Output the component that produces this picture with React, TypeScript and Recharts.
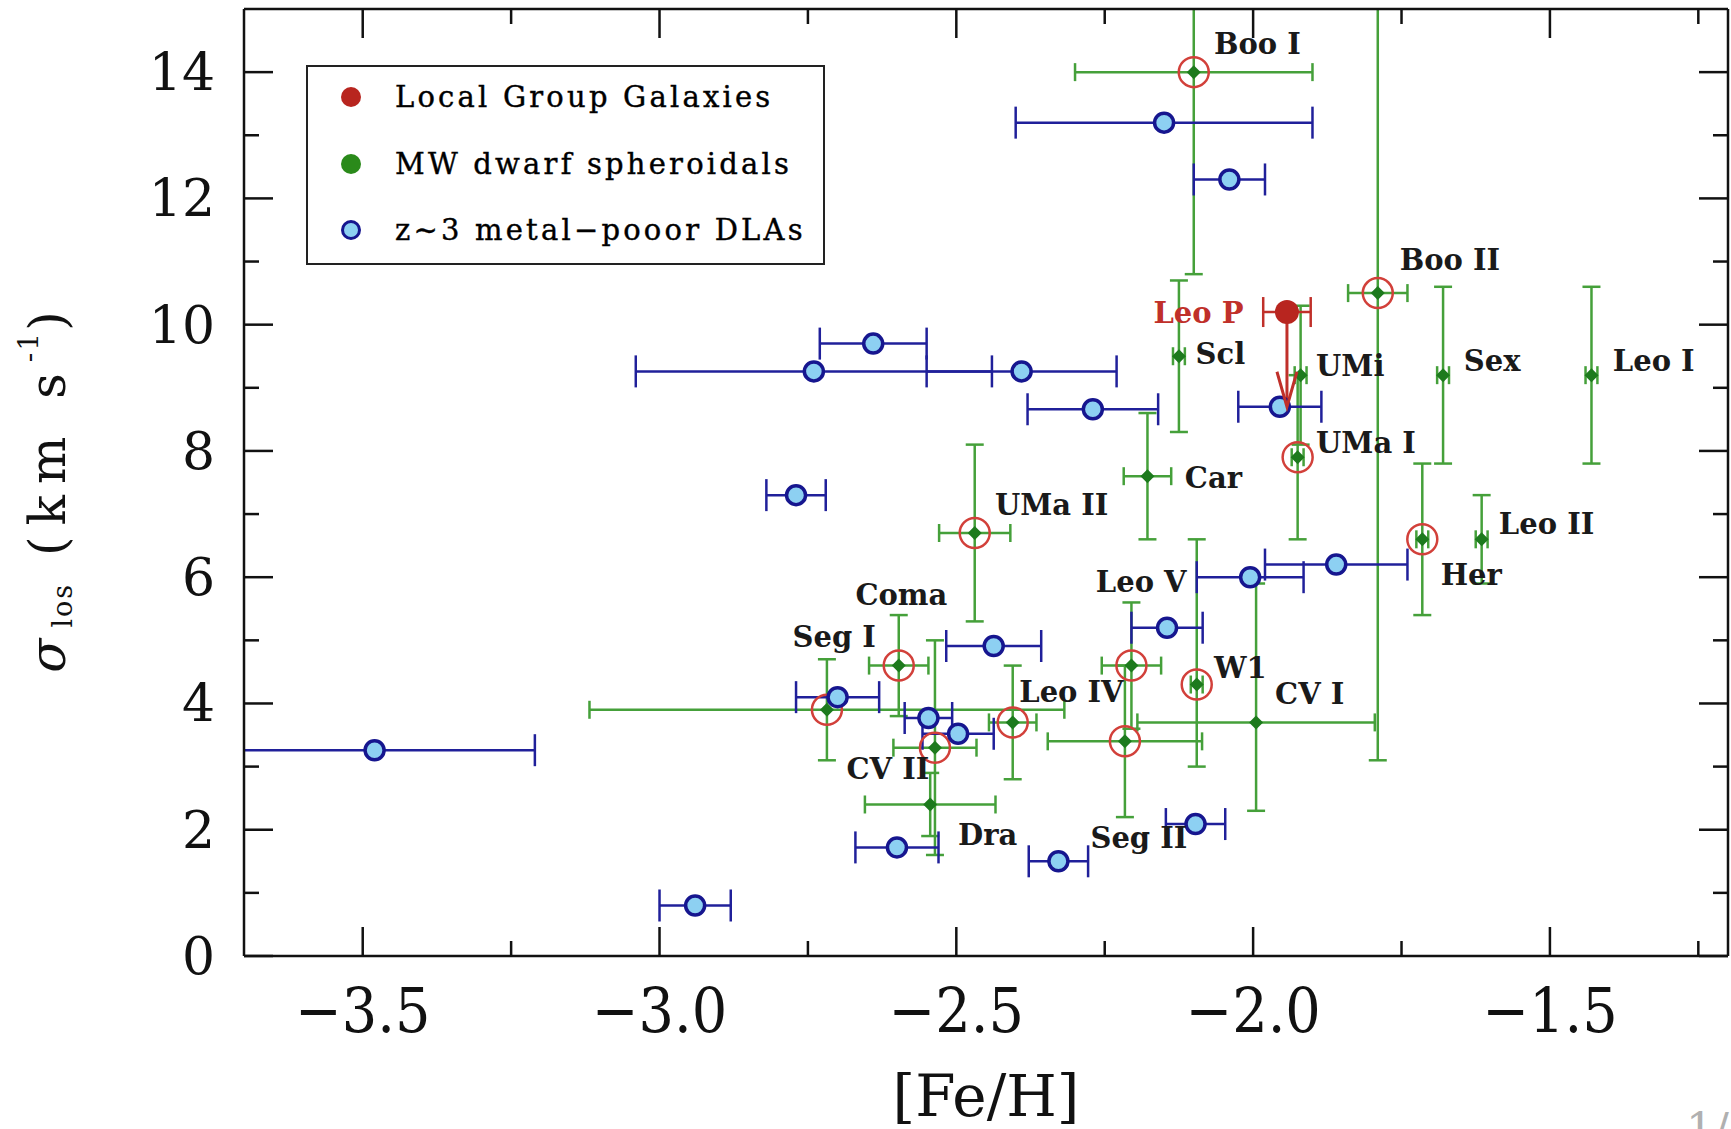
import React from "react";
import { ScatterChart, Scatter, XAxis, YAxis, ErrorBar, Legend } from "recharts";

// z~3 metal-poor DLAs: [Fe/H], sigma_los, error on [Fe/H]
const dlaFeH = [-2.15, -2.04, -2.64, -2.74, -2.39, -2.27, -1.955, -2.77, -2.005, -1.86, -2.145, -2.437, -2.70, -2.547, -2.497, -3.48, -2.097, -2.60, -2.328, -2.94];
const dlaSigma = [13.2, 12.3, 9.7, 9.26, 9.26, 8.66, 8.7, 7.3, 6.0, 6.2, 5.2, 4.91, 4.1, 3.77, 3.52, 3.26, 2.09, 1.72, 1.5, 0.8];
const dlaFeHErr = [0.25, 0.06, 0.09, 0.30, 0.16, 0.11, 0.07, 0.05, 0.09, 0.12, 0.06, 0.08, 0.07, 0.04, 0.06, 0.27, 0.05, 0.07, 0.05, 0.06];

// MW dwarf spheroidals
const dsphNames = ["Boo I", "Boo II", "Scl", "UMi", "Sex", "Leo I", "UMa I", "Car", "UMa II", "Her", "Leo II", "Leo V", "Coma", "W1", "Seg I", "Leo IV", "CV I", "Seg II", "CV II", "Dra"];
const dsphFeH = [-2.10, -1.79, -2.125, -1.92, -1.68, -1.43, -1.925, -2.178, -2.469, -1.715, -1.615, -2.205, -2.597, -2.095, -2.718, -2.405, -1.995, -2.216, -2.536, -2.544];
const dsphSigma = [14.0, 10.5, 9.5, 9.2, 9.2, 9.2, 7.9, 7.6, 6.7, 6.6, 6.6, 4.6, 4.6, 4.3, 3.9, 3.7, 3.7, 3.4, 3.3, 2.4];
const dsphFeHErr = [0.20, 0.05, 0.01, 0.01, 0.01, 0.01, 0.01, 0.04, 0.06, 0.01, 0.01, 0.05, 0.05, 0.01, 0.40, 0.04, 0.20, 0.13, 0.07, 0.11];
const dsphSigmaErrLow = [3.2, 7.4, 1.2, 1.1, 1.4, 1.4, 1.3, 1.0, 1.4, 1.2, 0.7, 1.0, 0.8, 1.3, 0.8, 0.9, 1.4, 1.2, 1.7, 0.5];
const dsphSigmaErrHigh = [3.2, 7.4, 1.2, 1.1, 1.4, 1.4, 1.3, 1.0, 1.4, 1.2, 0.7, 1.0, 0.8, 2.3, 0.8, 0.9, 2.2, 1.2, 1.7, 0.5];
const ringed = ["Boo I", "Boo II", "UMa I", "UMa II", "Her", "Leo V", "Coma", "W1", "Seg I", "Leo IV", "Seg II", "CV II"];

// Local Group galaxy (upper limit arrow down to leoPLimit)
const leoPFeH = [-1.943];
const leoPSigma = [10.2];
const leoPFeHErr = [0.04];
const leoPLimit = [8.7];

// name labels, placed in data units
const labelNames = ["Boo I", "Boo II", "Leo P", "Scl", "UMi", "Sex", "Leo I", "UMa I", "Car", "UMa II", "Leo II", "Her", "Leo V", "Coma", "Seg I", "W1", "Leo IV", "CV I", "CV II", "Dra", "Seg II"];
const labelFeH = [-2.066, -1.753, -2.168, -2.097, -1.894, -1.645, -1.394, -1.894, -2.115, -2.435, -1.586, -1.684, -2.265, -2.670, -2.776, -2.066, -2.394, -1.963, -2.685, -2.497, -2.274];
const labelSigma = [14.45, 11.02, 10.18, 9.53, 9.34, 9.43, 9.43, 8.13, 7.57, 7.14, 6.84, 6.04, 5.93, 5.72, 5.06, 4.56, 4.18, 4.15, 2.96, 1.92, 1.87];

const xTicks = [-3.5, -3.25, -3.0, -2.75, -2.5, -2.25, -2.0, -1.75, -1.5, -1.25];
const yTicks = [0, 1, 2, 3, 4, 5, 6, 7, 8, 9, 10, 11, 12, 13, 14];
const legendLabels = ["Local Group Galaxies", "MW dwarf spheroidals", "z~3 metal\u2212pooor DLAs"];

const dlaData = dlaFeH.map((x, i) => ({ x, y: dlaSigma[i], ex: dlaFeHErr[i] }));
const dsphData = dsphNames.map((name, i) => ({
  name,
  x: dsphFeH[i],
  y: dsphSigma[i],
  ex: dsphFeHErr[i],
  ey: [dsphSigmaErrLow[i], dsphSigmaErrHigh[i]],
}));
const ringData = dsphData.filter((d) => ringed.includes(d.name));
const leoPData = leoPFeH.map((x, i) => ({ x, y: leoPSigma[i], ex: leoPFeHErr[i], lim: [leoPSigma[i] - leoPLimit[i], 0] }));
const arrowData = leoPFeH.map((x, i) => ({ x, y: leoPLimit[i] }));
const labelData = labelNames.map((name, i) => ({ name, x: labelFeH[i], y: labelSigma[i] }));

const W = 1731;
const H = 1129;
const MARGIN = { top: 8, right: 2, bottom: 0, left: 0 };
const Y_AXIS_W = 244;
const X_AXIS_H = 173;
// plot frame, used to clip the error bars that run past the axes
const plotLeft = MARGIN.left + Y_AXIS_W;
const plotTop = MARGIN.top + 1;
const plotW = W - MARGIN.right - 1 - plotLeft;
const plotH = H - MARGIN.bottom - X_AXIS_H - plotTop;

const INK = "#111";
const GREEN = "#45a03a";
const GREEN_DOT = "#1d7a1d";
const BLUE = "#20209a";
const BLUE_FILL = "#8dd0f2";
const RED = "#c0302a";
const RING = "#d2403a";
const SERIF = "'DejaVu Serif', serif";

const fmt = (v: number) => (v < 0 ? "\u2212" : "") + Math.abs(v).toFixed(1);
const isMajorX = (v: number) => Math.abs(v * 2 - Math.round(v * 2)) < 1e-6;

const BottomTick = (p: any) => {
  const v = p.payload.value;
  const major = isMajorX(v);
  return (
    <g>
      <line x1={p.x} x2={p.x} y1={p.y} y2={p.y - (major ? 29 : 15)} stroke={INK} strokeWidth={2.5} />
      {major && (
        <text x={p.x} y={p.y + 54} textAnchor="middle" dominantBaseline="central" fontFamily="'DejaVu Serif Condensed', 'DejaVu Serif', serif" fontSize={62} fill={INK}>
          {fmt(v)}
        </text>
      )}
    </g>
  );
};

const TopTick = (p: any) => {
  const major = isMajorX(p.payload.value);
  return <line x1={p.x} x2={p.x} y1={p.y} y2={p.y + (major ? 29 : 15)} stroke={INK} strokeWidth={2.5} />;
};

const LeftTick = (p: any) => {
  const v = p.payload.value;
  const major = v % 2 === 0;
  return (
    <g>
      <line x1={p.x} x2={p.x + (major ? 29 : 15)} y1={p.y} y2={p.y} stroke={INK} strokeWidth={2.5} />
      {major && (
        <text x={p.x - 29} y={p.y} textAnchor="end" dominantBaseline="central" fontFamily={SERIF} fontSize={52} fill={INK}>
          {v}
        </text>
      )}
    </g>
  );
};

const RightTick = (p: any) => {
  const major = p.payload.value % 2 === 0;
  return <line x1={p.x} x2={p.x - (major ? 29 : 15)} y1={p.y} y2={p.y} stroke={INK} strokeWidth={2.5} />;
};

const XTitle = (props: any) => {
  const vb = props.viewBox;
  return (
    <text x={vb.x + vb.width / 2} y={vb.y + 140} textAnchor="middle" dominantBaseline="central" fontFamily={SERIF} fontSize={58} fill={INK}>
      [Fe/H]
    </text>
  );
};

const YTitle = (props: any) => {
  const vb = props.viewBox;
  const cx = vb.x + 48;
  const cy = vb.y + vb.height / 2 + 4;
  return (
    <text x={cx} y={cy} transform={`rotate(-90 ${cx} ${cy})`} textAnchor="middle" dominantBaseline="central" fontFamily={SERIF} fontSize={50} fill={INK} letterSpacing={11}>
      <tspan fontStyle="italic">{"\u03c3"}</tspan>
      <tspan fontSize={27} dy={14} letterSpacing={2}>los</tspan>
      <tspan dy={-14}>{" (km s"}</tspan>
      <tspan fontSize={28} dy={-20} letterSpacing={2}>-1</tspan>
      <tspan dy={20}>)</tspan>
    </text>
  );
};

const DlaDot = (p: any) => <circle cx={p.cx} cy={p.cy} r={9.5} fill={BLUE_FILL} stroke="#16168f" strokeWidth={3.5} />;
const GreenDot = (p: any) => (
  <polygon points={`${p.cx},${p.cy - 7} ${p.cx + 7},${p.cy} ${p.cx},${p.cy + 7} ${p.cx - 7},${p.cy}`} fill={GREEN_DOT} />
);
const Ring = (p: any) => <circle cx={p.cx} cy={p.cy} r={15} fill="none" stroke={RING} strokeWidth={2.5} />;
const LeoPDot = (p: any) => <circle cx={p.cx} cy={p.cy} r={12} fill="#b8251f" />;
const ArrowHead = (p: any) => (
  <polyline points={`${p.cx - 10},${p.cy - 35} ${p.cx},${p.cy} ${p.cx + 10},${p.cy - 35}`} fill="none" stroke={RED} strokeWidth={3} />
);
const NameLabel = (p: any) => (
  <text x={p.cx} y={p.cy} dominantBaseline="central" fontFamily={SERIF} fontSize={29} fontWeight="bold" fill={p.payload.name === "Leo P" ? RED : "#1a1a1a"}>
    {p.payload.name}
  </text>
);

const LegendMark = ({ i }: { i: number }) => {
  if (i === 0) return <circle cx={43} cy={20} r={10} fill="#b8251f" />;
  if (i === 1) return <circle cx={43} cy={20} r={10} fill="#2a8a1a" />;
  return <circle cx={43} cy={20} r={8.5} fill={BLUE_FILL} stroke="#16168f" strokeWidth={3} />;
};

const LegendBox = () => (
  <div style={{ width: 519, height: 200, border: "2.5px solid #222", boxSizing: "border-box", background: "#fff", position: "relative" }}>
    {legendLabels.map((lab, i) => (
      <div key={lab} style={{ position: "absolute", left: 0, top: 10 + i * 66.5, height: 40, display: "flex", alignItems: "center" }}>
        <svg width={87} height={40}>
          <LegendMark i={i} />
        </svg>
        <span style={{ fontFamily: SERIF, fontSize: 29, letterSpacing: 3.2, color: "#000", whiteSpace: "nowrap", WebkitTextStroke: "0.4px #000" }}>{lab}</span>
      </div>
    ))}
  </div>
);

export default function App() {
  return (
    <div style={{ position: "absolute", left: 0, top: 0, width: W, height: H, overflow: "hidden", background: "#fff" }}>
      <style>{`.recharts-errorBars, .recharts-errorBar { clip-path: url(#plot-frame-clip); }`}</style>
      <svg width={0} height={0} style={{ position: "absolute" }}>
        <defs>
          <clipPath id="plot-frame-clip" clipPathUnits="userSpaceOnUse">
            <rect x={plotLeft} y={plotTop} width={plotW} height={plotH} />
          </clipPath>
        </defs>
      </svg>
      <ScatterChart width={W} height={H} margin={MARGIN}>
        <XAxis
          dataKey="x"
          type="number"
          domain={[-3.7, -1.2]}
          allowDataOverflow
          ticks={xTicks}
          interval={0}
          height={X_AXIS_H}
          tickSize={0}
          tickMargin={0}
          tickLine={false}
          axisLine={{ stroke: INK, strokeWidth: 2.5 }}
          tick={(p: any) => <BottomTick {...p} />}
          label={<XTitle />}
        />
        <XAxis
          xAxisId="top"
          dataKey="x"
          orientation="top"
          type="number"
          domain={[-3.7, -1.2]}
          allowDataOverflow
          ticks={xTicks}
          interval={0}
          height={1}
          tickSize={0}
          tickMargin={0}
          tickLine={false}
          axisLine={{ stroke: INK, strokeWidth: 2.5 }}
          tick={(p: any) => <TopTick {...p} />}
        />
        <YAxis
          dataKey="y"
          type="number"
          domain={[0, 15]}
          allowDataOverflow
          ticks={yTicks}
          interval={0}
          width={Y_AXIS_W}
          tickSize={0}
          tickMargin={0}
          tickLine={false}
          axisLine={{ stroke: INK, strokeWidth: 2.5 }}
          tick={(p: any) => <LeftTick {...p} />}
          label={<YTitle />}
        />
        <YAxis
          yAxisId="right"
          dataKey="y"
          orientation="right"
          type="number"
          domain={[0, 15]}
          allowDataOverflow
          ticks={yTicks}
          interval={0}
          width={1}
          tickSize={0}
          tickMargin={0}
          tickLine={false}
          axisLine={{ stroke: INK, strokeWidth: 2.5 }}
          tick={(p: any) => <RightTick {...p} />}
        />
        <Legend layout="horizontal" verticalAlign="middle" align="center" wrapperStyle={{ left: 306, top: 65, width: 519, height: 200 }} content={() => <LegendBox />} />

        <Scatter name="MW dwarf spheroidals" data={dsphData} shape={GreenDot} isAnimationActive={false} legendType="none">
          <ErrorBar dataKey="ex" direction="x" width={9} stroke={GREEN} strokeWidth={2.5} />
          <ErrorBar dataKey="ey" direction="y" width={9} stroke={GREEN} strokeWidth={2.5} />
        </Scatter>
        <Scatter data={ringData} shape={Ring} isAnimationActive={false} legendType="none" />
        <Scatter name="z~3 metal-pooor DLAs" data={dlaData} shape={DlaDot} isAnimationActive={false} legendType="none">
          <ErrorBar dataKey="ex" direction="x" width={16} stroke={BLUE} strokeWidth={2.5} />
        </Scatter>
        <Scatter name="Local Group Galaxies" data={leoPData} shape={LeoPDot} isAnimationActive={false} legendType="none">
          <ErrorBar dataKey="ex" direction="x" width={15} stroke={RED} strokeWidth={2.5} />
          <ErrorBar dataKey="lim" direction="y" width={0} stroke={RED} strokeWidth={3} />
        </Scatter>
        <Scatter data={arrowData} shape={ArrowHead} isAnimationActive={false} legendType="none" />
        <Scatter xAxisId="top" yAxisId="right" data={labelData} shape={NameLabel} isAnimationActive={false} legendType="none" />
      </ScatterChart>
      <div style={{ position: "absolute", left: 1686, top: 1104, fontFamily: SERIF, fontSize: 44, color: "#b0b0b0" }}>1/</div>
    </div>
  );
}
